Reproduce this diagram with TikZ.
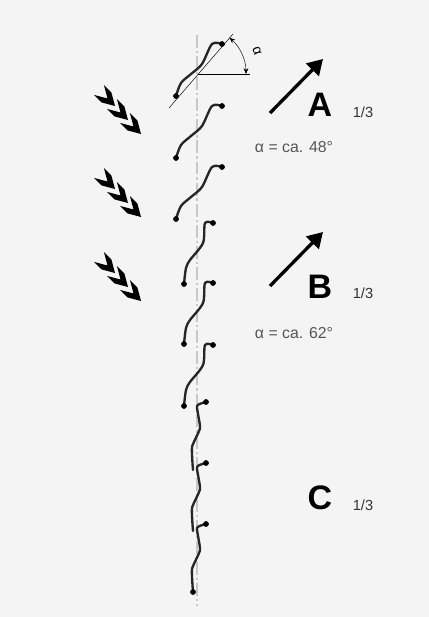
\documentclass[tikz,border=0pt]{standalone}
\usepackage{fontspec}
\setmainfont{Liberation Sans}
\usetikzlibrary{arrows.meta}

\definecolor{bggray}{HTML}{F4F4F4}
\definecolor{axisgray}{HTML}{C8C8C8}
\definecolor{textgray}{HTML}{555555}

\tikzset{
    strand/.style={line width=2pt,black!85,line join=round,line cap=round},
    axisline/.style={line width=2.4pt,axisgray,dash pattern=on 11pt off 2.5pt on 2pt off 2.5pt},
    bigarrow/.style={line width=2.8pt,-{Triangle[length=13pt,width=15pt]}},
    chev/.style={fill=black},
    letter/.style={font=\fontsize{29}{30}\selectfont\bfseries},
    frac/.style={font=\fontsize{12.5}{14}\selectfont,black!80},
    anglabel/.style={font=\fontsize{13.5}{16}\selectfont,textgray}
}

\begin{document}
\begin{tikzpicture}[x=0.03cm,y=-0.03cm]
                    \fill[bggray] (0,0) rectangle (429,617);
                    \useasboundingbox (0,0) rectangle (429,617);
                    \draw[axisline] (197,35) -- (197,606);
                    % angle at the top strand
                    \draw[thin] (169,108) -- (233,34);
                    \draw[thin] (198,74) -- (250,74);
                    \draw[thin,{Stealth[length=5pt,width=4pt]}-{Stealth[length=5pt,width=4pt]}] (246,74) arc (0:-49:48);
                    \node[rotate=-70,font=\fontsize{12}{14}\selectfont] (alphatop) at (257,51) {α};
                    % strands
                    \foreach \yt in {44,106,167} {
                        \draw[strand] plot[smooth,tension=0.5] coordinates {(222,\yt) (212,\yt) (202,\yt+20) (191,\yt+30) (181,\yt+39) (176,\yt+52)};
                        \filldraw (222,\yt) circle (2.2pt);
                        \filldraw (176,\yt+52) circle (2.2pt);
                    }
                    \foreach \yt in {223,283,345} {
                        \draw[strand] plot[smooth,tension=0.5] coordinates {(213,\yt) (205,\yt) (203,\yt+20) (190,\yt+37) (186,\yt+45) (184,\yt+61)};
                        \filldraw (213,\yt) circle (2.2pt);
                        \filldraw (184,\yt+61) circle (2.2pt);
                    }
                    \foreach \yt in {402,463,524} {
                        \draw[strand] plot[smooth,tension=0.3] coordinates {(206,\yt) (197,\yt+4) (200,\yt+26) (192,\yt+45) (193,\yt+68)};
                        \filldraw (206,\yt) circle (2.2pt);
                    }
                    \filldraw (193,592) circle (2.2pt);
                    % chevrons
                    \foreach \gy in {0,83,167} {
                        \foreach \k in {0,1,2} {
                            \fill[chev,shift={(115+13*\k,106+\gy+14*\k)}] (0,0) -- (-3.6,-13.5) -- (-11.1,-21) -- (-7.5,-7.5) -- (-21,-11.1) -- (-13.5,-3.6) -- cycle;
                        }
                    }
                    % arrows and labels
                    \draw[bigarrow] (270,113) -- (323,59);
                    \draw[bigarrow] (270,286) -- (323,232);
                    \node[letter] (A) at (320,105) {A};
                    \node[frac] (Afrac) at (363,112) {1/3};
                    \node[letter] (B) at (320,287) {B};
                    \node[frac] (Bfrac) at (363,293) {1/3};
                    \node[letter] (C) at (320,498) {C};
                    \node[frac] (Cfrac) at (363,505) {1/3};
                    \node[anglabel] (alphaA) at (294,147) {α = ca. 48°};
                    \node[anglabel] (alphaB) at (294,333) {α = ca. 62°};
                \end{tikzpicture}
\end{document}
